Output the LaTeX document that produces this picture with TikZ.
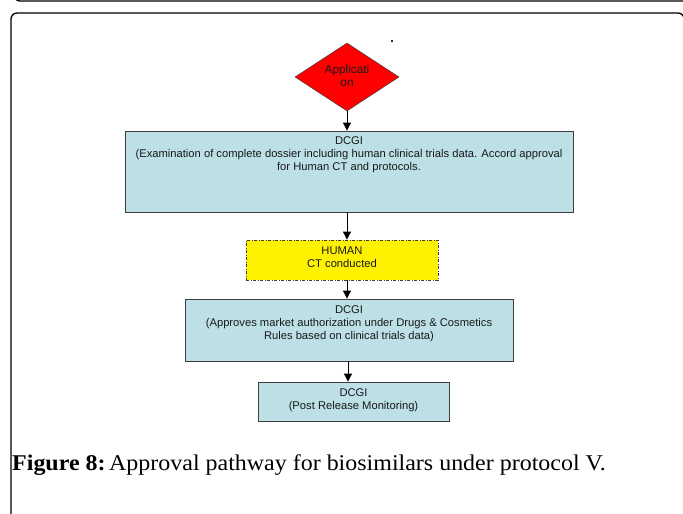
\documentclass[tikz,border=0pt]{standalone}
\usepackage{fontspec}
\setmainfont{Liberation Serif}
\newfontfamily\arialf{Liberation Sans}
\usetikzlibrary{shapes.geometric,arrows.meta}
\definecolor{boxblue}{RGB}{188,224,230}
\definecolor{boxline}{RGB}{60,60,60}
\definecolor{txtcol}{RGB}{25,25,25}
\definecolor{dotcol}{RGB}{20,40,80}
\begin{document}
\begin{tikzpicture}[x=1pt,y=-1pt,
  box/.style={draw=boxline, fill=boxblue, line width=0.8pt, inner sep=0pt},
  txt/.style={font=\arialf\fontsize{11.2}{13}\selectfont, text=txtcol, align=center, inner sep=0pt},
  arr/.style={-{Triangle[width=8pt,length=8pt]}, line width=0.9pt, black},
  frame/.style={line width=1.3pt, rounded corners=6pt}]
\useasboundingbox (0,0) rectangle (683,514);
% page rules
\draw[frame] (14,-10) -- (14,1) -- (690,1);
\draw[frame] (11,530) -- (11,13) -- (684,13) -- (684,40);
% diamond
\node[diamond, draw=boxline, fill=red, line width=0.5pt, inner sep=0pt, aspect=1.53, minimum width=104pt, minimum height=68pt] (dia) at (347,77) {};
\node[txt, font=\arialf\fontsize{11.8}{13}\selectfont] (diat) at (347,75.8) {Applicati\\on};
\fill[dotcol] (391,40) rectangle (393,42);
% box 1
\node[box, minimum width=448pt, minimum height=81pt] (b1) at (349,171.5) {};
\node[txt] (t1) at (349,154.8) {DCGI\\(Examination of complete dossier including human clinical trials data. Accord approval\\for Human CT and protocols.};
% yellow
\node[draw=boxline, fill=yellow, line width=0.8pt, dash pattern=on 3pt off 1.5pt on 1pt off 1.5pt, inner sep=0pt, minimum width=192pt, minimum height=40pt] (h) at (342,260) {};
\node[txt] (ht) at (342,257.5) {HUMAN\\CT conducted};
% box 3
\node[box, minimum width=328pt, minimum height=62pt] (b3) at (349,330) {};
\node[txt] (t3) at (349,324) {DCGI\\(Approves market authorization under Drugs \& Cosmetics\\Rules based on clinical trials data)};
% box 4
\node[box, minimum width=191pt, minimum height=39pt] (b4) at (353.5,401.5) {};
\node[txt] (t4) at (353.5,400) {DCGI\\(Post Release Monitoring)};
% arrows
\draw[arr] (dia.south) -- (dia.south |- b1.north);
\draw[arr] (b1.south -| dia.south) -- (dia.south |- h.north);
\draw[arr] (h.south -| dia.south) -- (dia.south |- b3.north);
\draw[arr] ([xshift=1pt]b3.south -| dia.south) -- ([xshift=1pt]dia.south |- b4.north);
% caption
\node[anchor=base west, inner sep=0pt, font=\fontsize{22.5}{26}\selectfont] (cap) at (12,470) {\scalebox{1.065}[1]{\textbf{Figure 8:}\hspace{0.15em}Approval pathway for biosimilars under protocol V.}};
\end{tikzpicture}
\end{document}
